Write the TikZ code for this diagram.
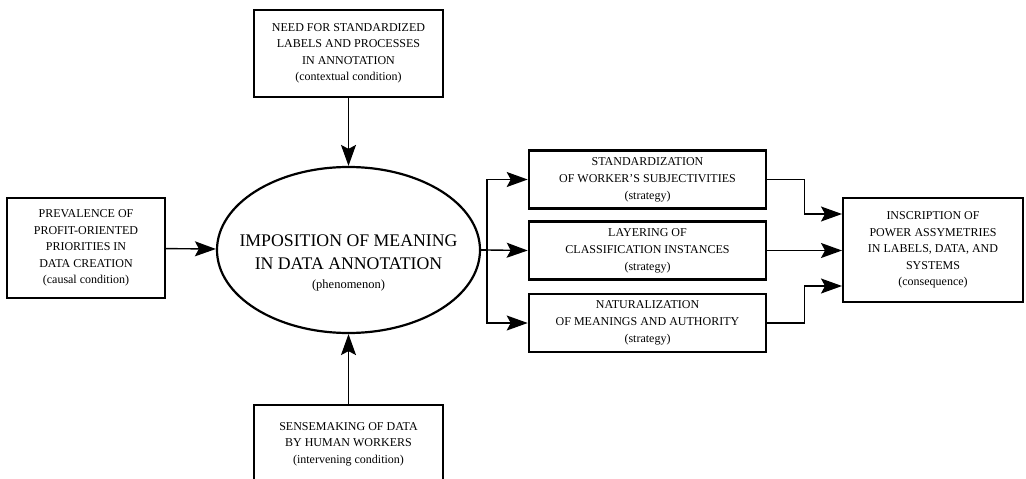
\documentclass[tikz,border=0pt]{standalone}
\usepackage{fontspec}
\setmainfont{Liberation Serif}
\usetikzlibrary{arrows.meta,shapes.geometric,calc}

\begin{document}
\begin{tikzpicture}[x=1pt,y=-1pt,
	cond/.style={draw,line width=2pt,align=center,inner sep=2pt,
		font=\fontsize{12}{16.5}\selectfont},
	strategy/.style={cond,line width=2.6pt,minimum width=237pt,minimum height=58pt,
		font=\fontsize{12}{17}\selectfont},
	phenomenon/.style={draw,ellipse,line width=2.2pt,align=center,
		inner xsep=-20pt,inner ysep=0pt,
		minimum width=263pt,minimum height=166pt,font=\fontsize{17.75}{22.5}\selectfont},
	flow/.style={line width=1.4pt,-{Stealth[length=21pt,width=15pt,inset=4pt]}}]
	\useasboundingbox (0,0) rectangle (1026,479);
	% phenomenon in the middle
	\node[phenomenon] (imposition) at (348.5,250)
		{\rule{0pt}{38pt}IMPOSITION OF MEANING\\IN DATA ANNOTATION\\[-3pt]
		 {\fontsize{12.5}{14}\selectfont (phenomenon)}};
	% conditions
	\node[cond,minimum width=189pt,minimum height=87pt] (context) at (348.5,53.5)
		{NEED FOR STANDARDIZED\\LABELS AND PROCESSES\\IN ANNOTATION\\(contextual condition)};
	\node[cond,minimum width=158pt,minimum height=100pt] (cause) at (86,248)
		{PREVALENCE OF\\PROFIT-ORIENTED\\PRIORITIES IN\\DATA CREATION\\(causal condition)};
	\node[cond,minimum width=189pt,minimum height=78pt,anchor=north] (sense) at (348.5,404)
		{SENSEMAKING OF DATA\\BY HUMAN WORKERS\\(intervening condition)};
	% strategies
	\node[strategy] (standard) at (647.5,179.5)
		{STANDARDIZATION\\OF WORKER'S SUBJECTIVITIES\\(strategy)};
	\node[strategy] (layering) at (647.5,250.5)
		{LAYERING OF\\CLASSIFICATION INSTANCES\\(strategy)};
	\node[strategy] (natural) at (647.5,323)
		{NATURALIZATION\\OF MEANINGS AND AUTHORITY\\(strategy)};
	% consequence
	\node[cond,minimum width=180pt,minimum height=104pt] (inscription) at (933,250)
		{INSCRIPTION OF\\POWER ASSYMETRIES\\IN LABELS, DATA, AND\\SYSTEMS\\(consequence)};

	\coordinate (branch) at (487,250);

	\draw[flow] (context) -- (imposition);
	\draw[flow] (cause) -- (imposition);
	\draw[flow] (sense) -- (imposition);
	\draw[line width=1.4pt] (imposition.east) -- (branch);
	\draw[flow] (branch) |- (standard.west);
	\draw[flow] (branch) -- (layering.west);
	\draw[flow] (branch) |- (natural.west);
	\draw[flow] (standard.east) -- ++(37,0) |- ([yshift=36pt]inscription.west);
	\draw[flow] (layering.east) -- (layering.east -| inscription.west);
	\draw[flow] (natural.east) -- ++(37,0) |- ([yshift=-36pt]inscription.west);
\end{tikzpicture}
\end{document}
